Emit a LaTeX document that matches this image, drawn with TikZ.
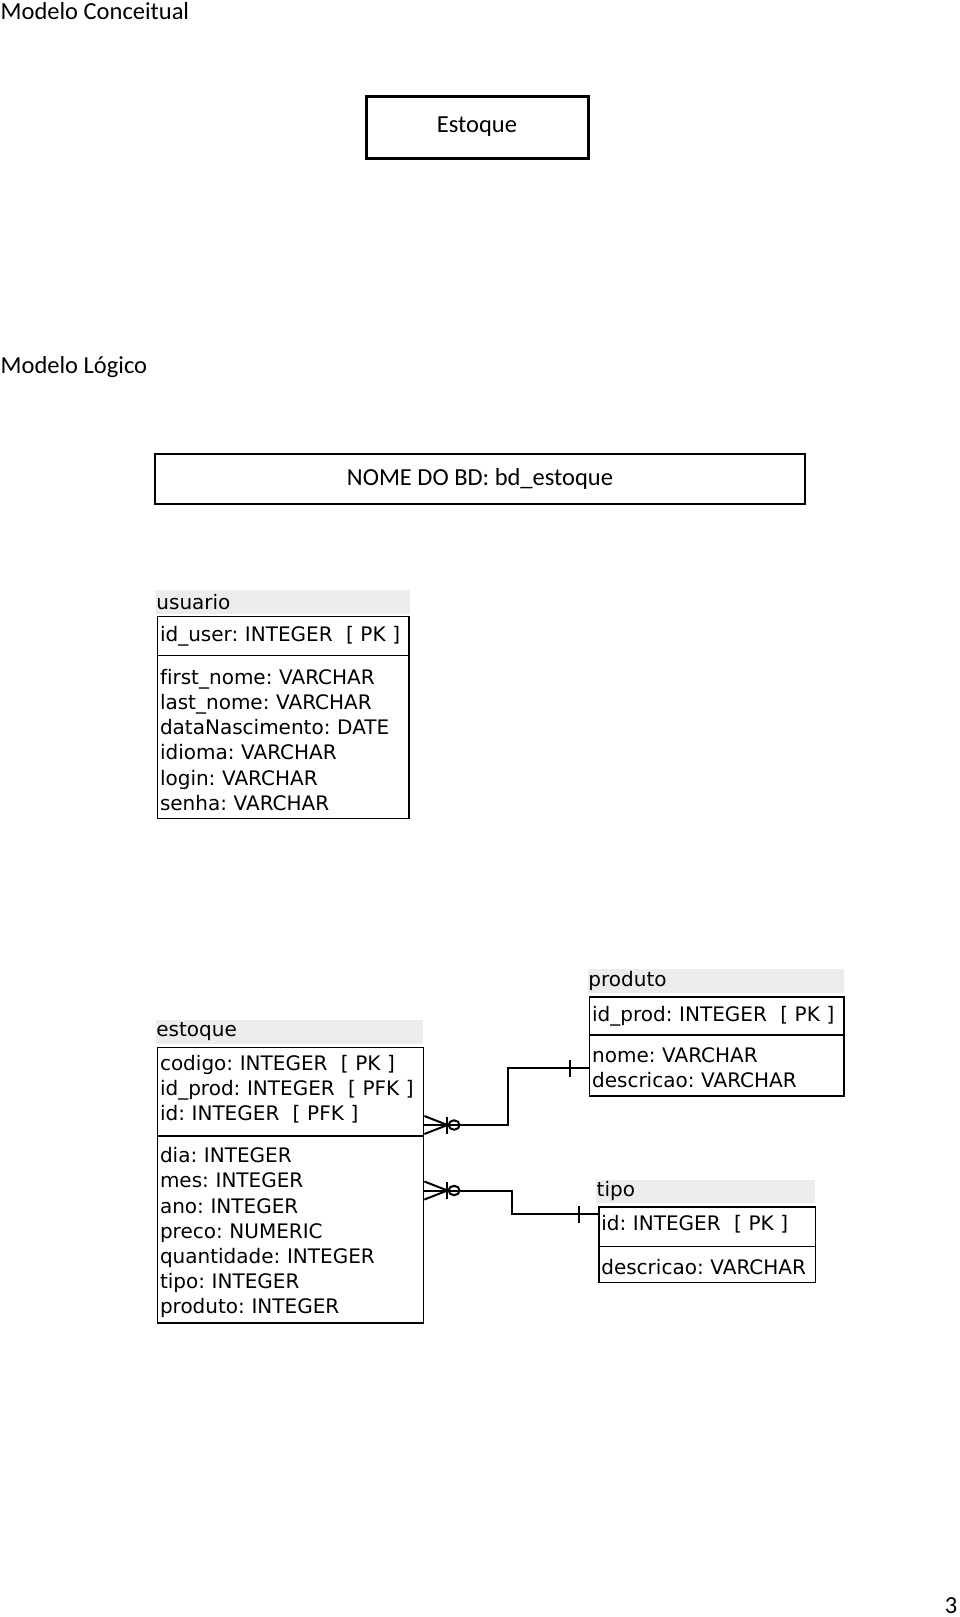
\documentclass[tikz,border=0pt]{standalone}
\usepackage{fontspec}
\setmainfont{Carlito}
\newfontfamily\erfont[Ligatures=NoCommon]{DejaVu Sans}
\frenchspacing

\begin{document}
\begin{tikzpicture}[
    x=1pt, y=-1pt,
    heading/.style={anchor=base west, inner sep=0pt, font=\fontsize{24.5}{29}\selectfont},
    frame/.style={draw, minimum height=50.5pt, font=\fontsize{24.5}{29}\selectfont},
    tabhead/.style={fill=gray!15, anchor=north west, inner xsep=0.5pt, inner ysep=0pt, align=left, font=\erfont\fontsize{20}{25.2}\selectfont},
    tabpart/.style={draw, line width=1.6pt, anchor=north west, inner xsep=2.5pt, inner ysep=0pt, align=left, font=\erfont\fontsize{20}{25.2}\selectfont},
    conn/.style={line width=2pt},
    crowfoot/.pic={
        \draw[conn] (0,-9) -- (23,0) -- (0,9);
        \draw[conn] (23,-8.5) -- (23,8.5);
        \draw[conn] (29.7,0) ellipse (5.5 and 4.7);
    },
    onebar/.pic={
        \draw[conn] (-18.6,-8.5) -- (-18.6,8.5);
    }
]
    \useasboundingbox (0,0) rectangle (960,1617);

    \node[heading] (conceitual) at (0.5,19)  {Modelo Conceitual};
    \node[frame, line width=3pt, minimum width=222pt, minimum height=62pt] (entidade) at (477,127) {Estoque};

    \node[heading] (logico)     at (0.5,373) {Modelo Lógico};
    \node[frame, line width=2.2pt, minimum width=650.6pt] (nomebd) at (480,479) {NOME DO BD: bd\_estoque};

    \node[tabhead, text width=252.7pt, minimum height=23.7pt] (usuariohead) at (155.7,589.8) {usuario};
    \node[tabpart, text width=246.6pt, minimum height=39.1pt] (usuariopk)   at (156.7,615.6) {id\_user: INTEGER\ \ [ PK ]};
    \node[tabpart, text width=246.6pt, minimum height=163pt]  (usuarioattr) at (156.7,654.7) {\rule{0pt}{21pt}first\_nome: VARCHAR\\last\_nome: VARCHAR\\dataNascimento: DATE\\idioma: VARCHAR\\login: VARCHAR\\senha: VARCHAR};

    \node[tabhead, text width=266.1pt, minimum height=23.7pt] (estoquehead) at (155.7,1019.8) {estoque};
    \node[tabpart, text width=261.1pt, minimum height=88.7pt] (estoquepk)   at (156.7,1046.6) {codigo: INTEGER\ \ [ PK ]\\id\_prod: INTEGER\ \ [ PFK ]\\id: INTEGER\ \ [ PFK ]\rule[-8pt]{0pt}{0pt}};
    \node[tabpart, text width=261.1pt, minimum height=186.6pt] (estoqueattr) at (156.7,1135.3) {\rule{0pt}{22pt}dia: INTEGER\\mes: INTEGER\\ano: INTEGER\\preco: NUMERIC\\quantidade: INTEGER\\tipo: INTEGER\\produto: INTEGER};

    \node[tabhead, text width=254.7pt, minimum height=24pt]   (produtohead) at (587.7,969)   {produto};
    \node[tabpart, text width=249.6pt, minimum height=38.2pt] (produtopk)   at (588.8,996)   {id\_prod: INTEGER\ \ [ PK ]};
    \node[tabpart, text width=249.6pt, minimum height=60.8pt] (produtoattr) at (588.8,1034.2) {\rule{0pt}{19.5pt}nome: VARCHAR\\descricao: VARCHAR};

    \node[tabhead, text width=217.6pt, minimum height=22.7pt] (tipohead) at (596,1179.6)  {tipo};
    \node[tabpart, text width=211.6pt, minimum height=39.2pt] (tipopk)   at (598,1206.4)  {id: INTEGER\ \ [ PK ]\rule[-8pt]{0pt}{0pt}};
    \node[tabpart, text width=211.6pt, minimum height=36.1pt] (tipoattr) at (598,1245.6)  {\rule{0pt}{19.5pt}descricao: VARCHAR};

    \coordinate (fkprod) at (estoquepk.east |- 0,1125);
    \coordinate (pkprod) at (produtoattr.west |- 0,1068.3);
    \coordinate (fktipo) at (estoqueattr.east |- 0,1190.5);
    \coordinate (pktipo) at (tipopk.west |- 0,1214);

    \draw[conn] (fkprod) -- ++(83.7,0) |- (pkprod);
    \pic at (fkprod) {crowfoot};
    \pic at (pkprod) {onebar};

    \draw[conn] (fktipo) -- ++(87.5,0) |- (pktipo);
    \pic at (fktipo) {crowfoot};
    \pic at (pktipo) {onebar};

    \node[anchor=base east, inner sep=0pt, font=\fontsize{24.5}{29}\selectfont] (pagina) at (957.5,1613.5) {3};
\end{tikzpicture}
\end{document}
